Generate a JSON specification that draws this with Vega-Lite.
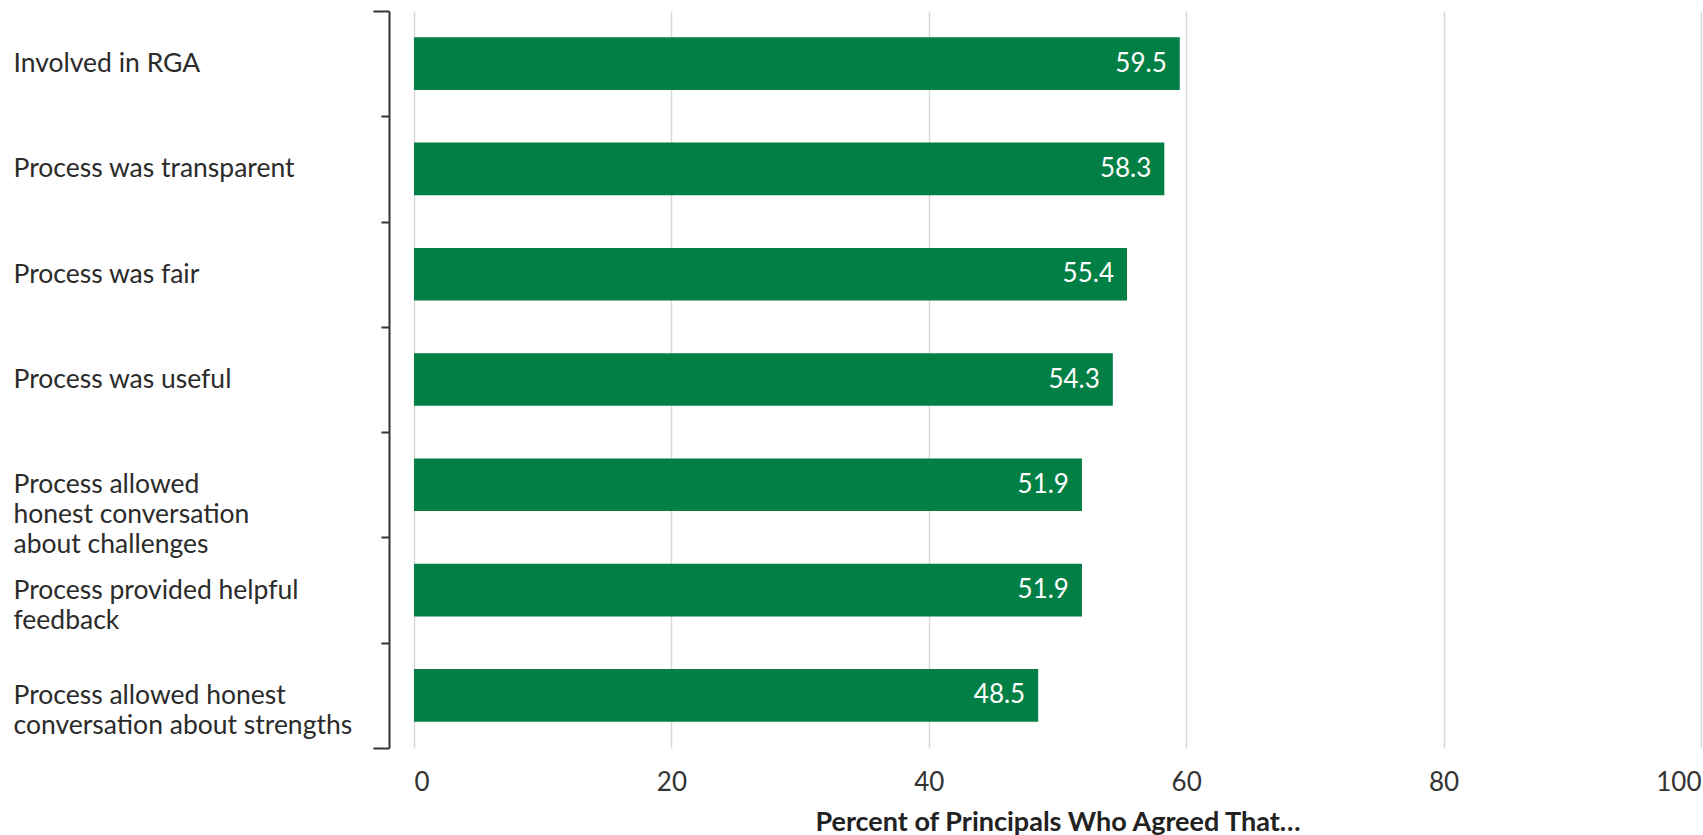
{
  "$schema": "https://vega.github.io/schema/vega-lite/v6.json",
  "autosize": "none",
  "width": 1287,
  "height": 737,
  "padding": {"left": 414, "top": 11, "right": 2, "bottom": 87},
  "background": "white",
  "config": {
    "view": {"stroke": null},
    "font": "Lato"
  },
  "data": {
    "values": [
      {"label": "Involved in RGA", "value": 59.5},
      {"label": "Process was transparent", "value": 58.3},
      {"label": "Process was fair", "value": 55.4},
      {"label": "Process was useful", "value": 54.3},
      {"label": "Process allowed|honest conversation|about challenges", "value": 51.9},
      {"label": "Process provided helpful|feedback", "value": 51.9},
      {"label": "Process allowed honest|conversation about strengths", "value": 48.5}
    ]
  },
  "encoding": {
    "y": {
      "field": "label",
      "type": "nominal",
      "sort": null,
      "scale": {"paddingInner": 0, "paddingOuter": 0},
      "axis": {
        "title": null,
        "offset": 25,
        "domainColor": "#333333",
        "domainWidth": 2,
        "tickColor": "#333333",
        "tickWidth": 2,
        "tickBand": "extent",
        "tickSize": {"condition": {"test": "datum.index == 1 || datum.index < 0", "value": 16}, "value": 8},
        "labelAlign": "left",
        "labelPadding": {"condition": {"test": "datum.index == 1", "value": 360}, "value": 368},
        "labelFont": "Lato",
        "labelFontSize": 26.5,
        "labelColor": "#2b2b2b",
        "labelLineHeight": 30,
        "labelLimit": 0,
        "labelExpr": "split(datum.label, '|')"
      }
    },
    "x": {
      "field": "value",
      "type": "quantitative",
      "scale": {"domain": [0, 100], "nice": false},
      "axis": {
        "title": "Percent of Principals Who Agreed That…",
        "titleFont": "Lato",
        "titleFontSize": 27,
        "titleFontWeight": "bold",
        "titleColor": "#222222",
        "titlePadding": 14,
        "values": [0, 20, 40, 60, 80, 100],
        "domain": false,
        "ticks": false,
        "grid": true,
        "gridColor": "#d9d9d9",
        "gridWidth": 1.5,
        "labelFlush": true,
        "labelFont": "Lato",
        "labelFontSize": 26,
        "labelColor": "#333333",
        "labelPadding": 21
      }
    }
  },
  "layer": [
    {
      "mark": {"type": "bar", "color": "#017f44", "height": {"band": 0.5}}
    },
    {
      "mark": {"type": "text", "align": "right", "baseline": "middle", "dx": -13, "color": "white", "font": "Lato", "fontSize": 26},
      "encoding": {
        "text": {"field": "value", "type": "quantitative", "format": ".1f"}
      }
    }
  ]
}
